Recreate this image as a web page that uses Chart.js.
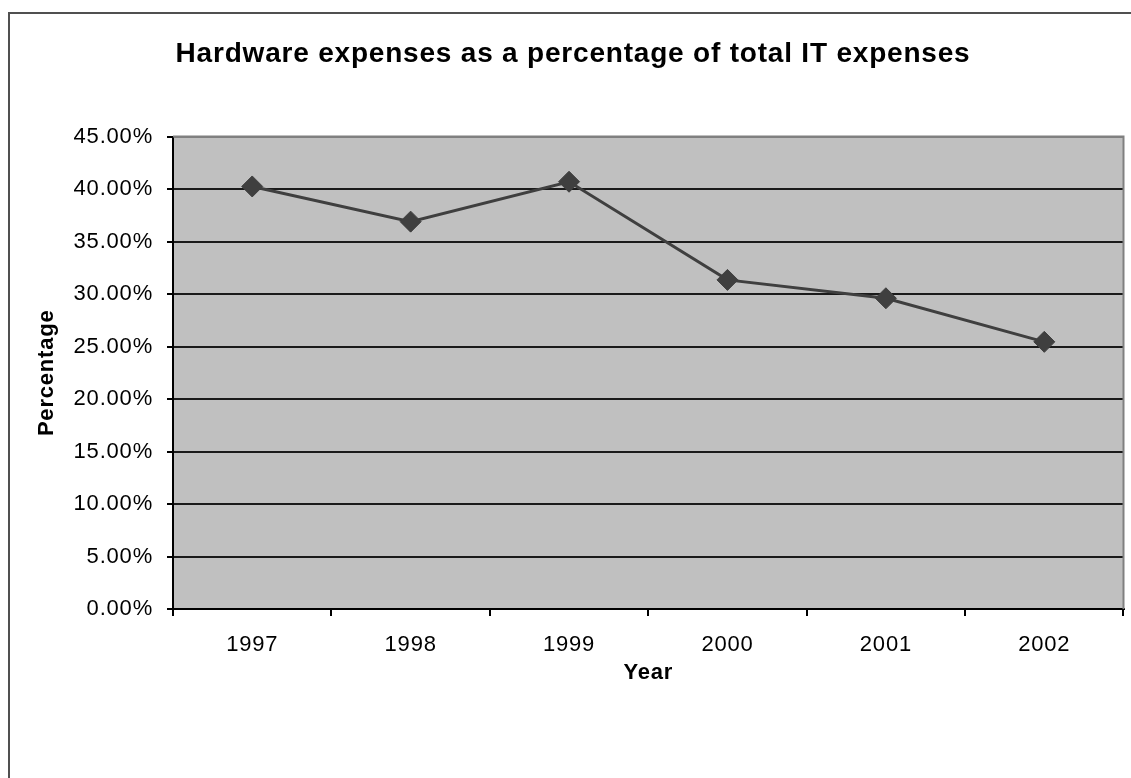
<!DOCTYPE html>
<html>
<head>
<meta charset="utf-8">
<script src="https://cdn.jsdelivr.net/npm/chart.js@4/dist/chart.umd.min.js"></script>
<style>
  html, body { margin: 0; padding: 0; background: #fff; overflow: hidden; }
  #frame {
    position: absolute; left: 8px; top: 12px; width: 1200px; height: 800px;
    border: 2px solid #505050; box-sizing: border-box;
  }
  #chart { position: absolute; left: 0; top: 0; }
</style>
</head>
<body>
<div id="frame"></div>
<canvas id="chart" width="1135" height="778"></canvas>
<script>
const years = ["1997", "1998", "1999", "2000", "2001", "2002"];
const hardwareShare = [40.25, 36.9, 40.7, 31.35, 29.6, 25.45];
const yMin = 0;
const yMax = 45;
const yStep = 5;

const fontFamily = "'Liberation Sans', Arial, sans-serif";

// Excel-like wide letter spacing for all canvas text
const spacingPlugin = {
  id: "spacing",
  beforeUpdate(chart) {
    chart.ctx.letterSpacing = "0.8px";
  },
  beforeDraw(chart) {
    chart.ctx.letterSpacing = "0.8px";
  },
};

// grey plot area, grey top/right frame
const plotAreaPlugin = {
  id: "plotArea",
  beforeDraw(chart) {
    const { ctx, chartArea: a } = chart;
    ctx.save();
    ctx.fillStyle = "#c0c0c0";
    ctx.fillRect(a.left, a.top, a.right - a.left, a.bottom - a.top);
    ctx.restore();
  },
  beforeDatasetsDraw(chart) {
    const { ctx, chartArea: a } = chart;
    ctx.save();
    ctx.strokeStyle = "#808080";
    ctx.lineWidth = 2;
    ctx.beginPath();
    ctx.moveTo(a.left, a.top);
    ctx.lineTo(a.right, a.top);
    ctx.lineTo(a.right, a.bottom);
    ctx.stroke();
    ctx.restore();
  },
};

new Chart(document.getElementById("chart"), {
  type: "line",
  data: {
    labels: years,
    datasets: [
      {
        label: "Hardware",
        data: hardwareShare,
        borderColor: "#3f3f3f",
        borderWidth: 3,
        backgroundColor: "#3f3f3f",
        pointStyle: "rectRot",
        pointRadius: 10.5,
        pointBorderWidth: 1,
        pointBorderColor: "#3f3f3f",
        pointBackgroundColor: "#3f3f3f",
        tension: 0,
      },
    ],
  },
  options: {
    responsive: false,
    animation: false,
    layout: { padding: { left: 18, right: 7, top: 0, bottom: 0 } },
    plugins: {
      legend: { display: false },
      tooltip: { enabled: false },
      title: {
        display: true,
        text: "Hardware expenses as a percentage of total IT expenses",
        color: "#000",
        font: { family: fontFamily, size: 28, weight: "bold" },
        padding: { top: 37, bottom: 66 },
      },
    },
    scales: {
      x: {
        offset: true,
        afterFit(scale) {
          scale.height = 169;
          scale.paddingLeft = 0;
          scale.paddingRight = 0;
        },
        border: { display: true, color: "#000", width: 2 },
        grid: {
          offset: true,
          drawOnChartArea: false,
          tickLength: 7,
          color: "#000",
          lineWidth: 2,
        },
        ticks: {
          color: "#000",
          padding: 16,
          maxRotation: 0,
          font: { family: fontFamily, size: 22 },
        },
        title: {
          display: true,
          text: "Year",
          color: "#000",
          font: { family: fontFamily, size: 22, weight: "bold" },
          padding: { bottom: 92 },
        },
      },
      y: {
        min: yMin,
        max: yMax,
        afterFit(scale) {
          scale.width = 155;
        },
        border: { display: true, color: "#000", width: 2 },
        grid: {
          color: (c) => (c.tick && c.tick.value === yMax ? "#808080" : "#1a1a1a"),
          lineWidth: 2,
          tickLength: 6,
          tickColor: "#000",
        },
        ticks: {
          stepSize: yStep,
          color: "#000",
          padding: 14,
          font: { family: fontFamily, size: 22 },
          callback: (v) => Number(v).toFixed(2) + "%",
        },
        title: {
          display: true,
          text: "Percentage",
          color: "#000",
          font: { family: fontFamily, size: 22, weight: "bold" },
          padding: { top: 16 },
        },
      },
    },
  },
  plugins: [spacingPlugin, plotAreaPlugin],
});
</script>
</body>
</html>
